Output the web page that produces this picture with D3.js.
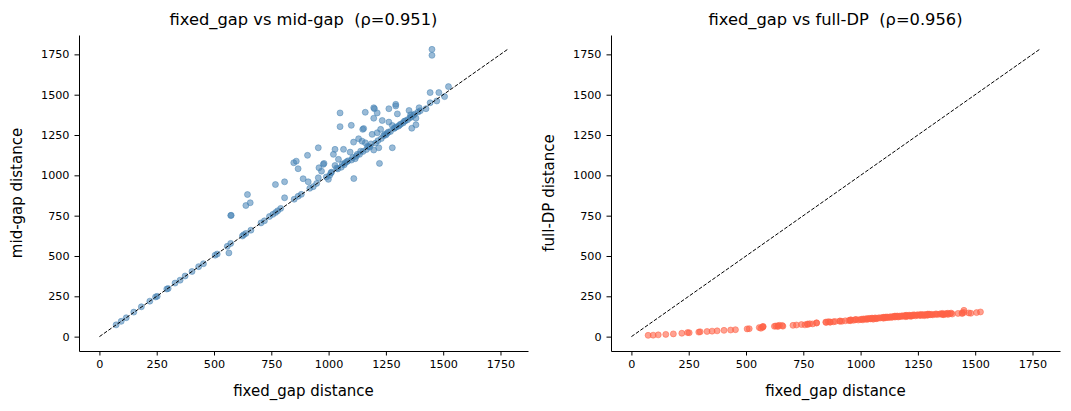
<!DOCTYPE html>
<html>
<head>
<meta charset="utf-8">
<script src="https://cdn.jsdelivr.net/npm/d3@7"></script>
<style>
  body { margin: 0; background: #fff; }
  text { font-family: "DejaVu Sans", sans-serif; fill: #000; }
  .tick text { font-size: 11.2px; }
  .axis path, .axis line { stroke: #000; stroke-width: 1; }
  .title { font-size: 16.3px; white-space: pre; }
  .axistitle { font-size: 15px; }
</style>
</head>
<body>
<div id="chart"></div>
<script>
// fixed_gap distance (shared x for both panels)
var fixedGap = [73, 95, 117, 150, 183, 220, 245, 252, 294, 300, 330, 352, 374, 404, 433, 454, 505, 514,
  558, 565, 573, 573, 575, 624, 630, 639, 639, 646, 658, 661, 705, 720, 742, 757, 768, 769, 778, 791,
  808, 808, 848, 850, 859, 867, 867, 881, 889, 908, 911, 918, 933, 948, 955, 955, 958, 969, 977, 980,
  990, 999, 1005, 1010, 1013, 1021, 1028, 1028, 1035, 1040, 1043, 1050, 1050, 1055, 1060, 1065, 1068,
  1072, 1080, 1085, 1094, 1099, 1100, 1105, 1109, 1110, 1116, 1120, 1125, 1131, 1135, 1140, 1146, 1149,
  1150, 1153, 1160, 1160, 1165, 1170, 1175, 1180, 1185, 1190, 1197, 1197, 1197, 1200, 1205, 1212,
  1212, 1215, 1219, 1222, 1227, 1230, 1234, 1240, 1245, 1250, 1255, 1260, 1263, 1263, 1270, 1278,
  1278, 1285, 1290, 1293, 1293, 1295, 1300, 1305, 1310, 1315, 1325, 1330, 1335, 1345, 1351, 1355,
  1358, 1360, 1363, 1370, 1375, 1381, 1381, 1390, 1395, 1400, 1425, 1443, 1443, 1451, 1451, 1472,
  1481, 1506, 1523];

// mid-gap distance
var midGap = [73, 95, 117, 152, 185, 220, 246, 250, 295, 298, 332, 350, 376, 404, 434, 452, 505, 512,
  560, 519, 578, 751, 752, 624, 632, 640, 813, 881, 830, 660, 705, 718, 745, 758, 943, 770, 780, 795,
  861, 960, 1078, 852, 1088, 1041, 870, 882, 979, 1124, 960, 920, 930, 950, 1171, 985, 1047, 1026, 1068, 1074,
  990, 975, 1000, 1015, 1020, 1130, 1061, 1161, 1045, 1040, 1099, 1387, 1302, 1050, 1070, 1161, 1065,
  1078, 1085, 1090, 1144, 1310, 1095, 1110, 1206, 980, 1103, 1118, 1130, 1227, 1130, 1150, 1212, 1285,
  1148, 1290, 1391, 1202, 1160, 1180, 1178, 1175, 1195, 1254, 1419, 1354, 1157, 1413, 1200, 1387,
  1264, 1215, 1171, 1074, 1285, 1228, 1340, 1245, 1255, 1250, 1260, 1268, 1413, 1330, 1272, 1309,
  1171, 1290, 1295, 1440, 1430, 1300, 1381, 1305, 1312, 1318, 1325, 1335, 1338, 1345, 1402, 1358,
  1375, 1360, 1292, 1372, 1380, 1354, 1313, 1392, 1419, 1400, 1413, 1513, 1450, 1781, 1744, 1461,
  1513, 1488, 1550];

// full-DP distance
var fullDP = [8, 9, 11, 14, 17, 21, 25, 24, 28, 30, 32, 34, 36, 39, 41, 43, 48, 49,
  56, 52, 58, 62, 63, 64, 66, 63, 67, 70, 69, 65, 70, 72, 75, 73, 78, 76, 80, 79,
  84, 86, 90, 88, 93, 91, 89, 92, 94, 96, 97, 95, 98, 100, 103, 99, 104, 101, 105, 107,
  103, 106, 108, 104, 110, 109, 112, 107, 111, 113, 110, 115, 112, 108, 114, 116, 111,
  113, 117, 115, 118, 120, 114, 119, 121, 117, 122, 118, 120, 124, 119, 123, 125, 127,
  121, 126, 128, 124, 122, 127, 125, 129, 126, 130, 131, 128, 124, 132, 127, 133,
  129, 130, 126, 128, 134, 131, 135, 129, 133, 136, 132, 134, 138, 131, 135, 137,
  130, 136, 134, 140, 133, 137, 139, 136, 138, 135, 139, 141, 137, 140, 142, 138,
  144, 139, 136, 141, 143, 145, 138, 142, 146, 140, 144, 148, 143, 163, 150, 147,
  145, 149, 153];

var rhoMid = "0.951", rhoFull = "0.956";
var xTicks = [0, 250, 500, 750, 1000, 1250, 1500, 1750];
var yTicks = [0, 250, 500, 750, 1000, 1250, 1500, 1750];

var W = 1071, H = 411;
var svg = d3.select("#chart").append("svg")
  .attr("width", W)
  .attr("height", H);

var maxVal = d3.max(fixedGap.concat(midGap, fullDP));
var pad = maxVal * 0.05;

function panel(left, yVals, color, opacity, title, ylab) {
  var width = 449, height = 316, top = 35;
  var g = svg.append("g")
    .attr("transform", "translate(" + left + "," + top + ")");

  var x = d3.scaleLinear().domain([-pad, maxVal + pad]).range([0, width]);
  var y = d3.scaleLinear().domain([-pad, maxVal + pad]).range([height, 0]);

  g.append("g")
    .attr("class", "axis")
    .attr("transform", "translate(0," + height + ")")
    .call(d3.axisBottom(x).tickValues(xTicks).tickFormat(d3.format("d"))
      .tickSize(4.5).tickPadding(5).tickSizeOuter(0));

  g.append("g")
    .attr("class", "axis")
    .call(d3.axisLeft(y).tickValues(yTicks).tickFormat(d3.format("d"))
      .tickSize(4.5).tickPadding(5).tickSizeOuter(0));

  var pts = fixedGap.map(function(d, i) { return [d, yVals[i]]; });

  g.selectAll(".dot")
    .data(pts)
    .enter().append("circle")
    .attr("class", "dot")
    .attr("cx", function(d) { return x(d[0]); })
    .attr("cy", function(d) { return y(d[1]); })
    .attr("r", 3)
    .style("fill", color)
    .style("fill-opacity", opacity)
    .style("stroke", color)
    .style("stroke-opacity", opacity)
    .style("stroke-width", 0.9);

  // y = x reference
  g.append("line")
    .attr("x1", x(0)).attr("y1", y(0))
    .attr("x2", x(maxVal)).attr("y2", y(maxVal))
    .attr("stroke", "#000")
    .attr("stroke-width", 1)
    .attr("stroke-dasharray", "3.8,1.7");

  g.append("text")
    .attr("class", "title")
    .attr("text-anchor", "middle")
    .attr("x", width / 2)
    .attr("y", -10)
    .text(title);

  g.append("text")
    .attr("class", "axistitle")
    .attr("text-anchor", "middle")
    .attr("x", width / 2)
    .attr("y", height + 45)
    .text("fixed_gap distance");

  g.append("text")
    .attr("class", "axistitle")
    .attr("text-anchor", "middle")
    .attr("transform", "translate(-57," + (height / 2) + ") rotate(-90)")
    .text(ylab);
}

panel(79, midGap, "#4682b4", 0.55, "fixed_gap vs mid-gap  (\u03c1=" + rhoMid + ")", "mid-gap distance");
panel(611, fullDP, "#ff6347", 0.6, "fixed_gap vs full-DP  (\u03c1=" + rhoFull + ")", "full-DP distance");
</script>
</body>
</html>
